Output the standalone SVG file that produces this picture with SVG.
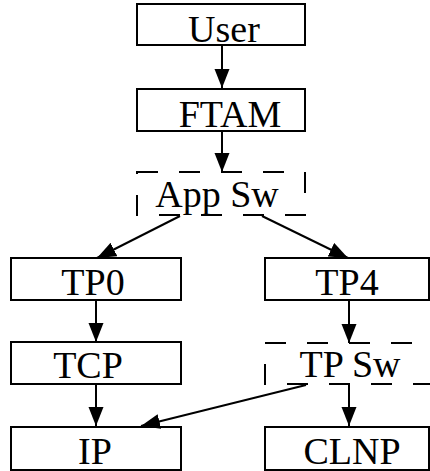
<svg xmlns="http://www.w3.org/2000/svg" width="430" height="471" viewBox="0 0 430 471">
  <style>
    .box { fill: #fff; stroke: #000; stroke-width: 2; }
    .sw { fill: none; stroke: #000; stroke-width: 2; stroke-dasharray: 21 21; }
    .lbl { font-family: "Liberation Serif", "Times New Roman", serif; font-size: 38px; fill: #000; text-anchor: middle; }
    .edge { stroke: #000; stroke-width: 2; fill: none; marker-end: url(#head); }
  </style>
  <defs>
    <marker id="head" markerUnits="userSpaceOnUse" markerWidth="20" markerHeight="16" refX="19" refY="7.5" orient="auto">
      <path d="M0,0 L19,7.5 L0,15 z" fill="#000"/>
    </marker>
  </defs>
  <rect width="430" height="471" fill="#fff"/>

  <!-- protocol stack nodes -->
  <g id="user">
    <rect class="box" x="137" y="4" width="168" height="41"/>
    <text class="lbl" x="224" y="42">User</text>
  </g>
  <g id="ftam">
    <rect class="box" x="137" y="89" width="168" height="42"/>
    <text class="lbl" x="230" y="127">FTAM</text>
  </g>
  <g id="app-sw">
    <rect class="sw" x="137" y="172" width="168" height="43"/>
    <text class="lbl" x="217" y="207">App Sw</text>
  </g>
  <g id="tp0">
    <rect class="box" x="11" y="258" width="170" height="42"/>
    <text class="lbl" x="93" y="295">TP0</text>
  </g>
  <g id="tp4">
    <rect class="box" x="265" y="258" width="164" height="42"/>
    <text class="lbl" x="347" y="295">TP4</text>
  </g>
  <g id="tcp">
    <rect class="box" x="11" y="342" width="170" height="42"/>
    <text class="lbl" x="88" y="378">TCP</text>
  </g>
  <g id="tp-sw">
    <rect class="sw" x="265" y="343" width="169" height="41"/>
    <text class="lbl" x="350" y="377">TP Sw</text>
  </g>
  <g id="ip">
    <rect class="box" x="11" y="427" width="170" height="43"/>
    <text class="lbl" x="95" y="464">IP</text>
  </g>
  <g id="clnp">
    <rect class="box" x="265" y="427" width="164" height="43"/>
    <text class="lbl" x="352" y="464">CLNP</text>
  </g>

  <!-- connectors -->
  <g id="edges">
    <line class="edge" x1="222" y1="45" x2="222" y2="88"/>
    <line class="edge" x1="222" y1="131" x2="222" y2="172"/>
    <line class="edge" x1="180" y1="216" x2="97" y2="258"/>
    <line class="edge" x1="262" y1="216" x2="348" y2="258"/>
    <line class="edge" x1="96" y1="300" x2="96" y2="342"/>
    <line class="edge" x1="349" y1="300" x2="349" y2="343"/>
    <line class="edge" x1="96" y1="384" x2="96" y2="426"/>
    <line class="edge" x1="349" y1="384" x2="349" y2="426"/>
    <line class="edge" x1="306" y1="385" x2="141" y2="426"/>
  </g>
</svg>
